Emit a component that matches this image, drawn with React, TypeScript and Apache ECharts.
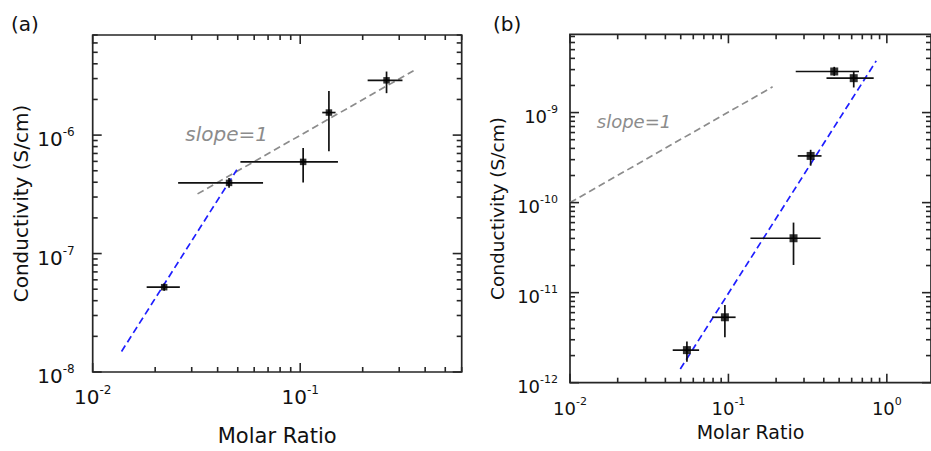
import React, { useEffect, useRef } from 'react';
import * as echarts from 'echarts';

// ---------- Panel (a) ----------
const ratioA = [0.0221, 0.0454, 0.1033, 0.1375, 0.2606];
const condA = [5.2e-8, 3.95e-7, 5.94e-7, 1.55e-6, 2.9e-6];
const ratioLoA = [0.0182, 0.0258, 0.0515, 0.1277, 0.2113];
const ratioHiA = [0.0263, 0.0662, 0.152, 0.148, 0.311];
const condLoA = [4.85e-8, 3.6e-7, 3.97e-7, 7.3e-7, 2.26e-6];
const condHiA = [5.6e-8, 4.35e-7, 7.8e-7, 2.36e-6, 3.44e-6];
const fitA = [[0.01377, 1.49e-8], [0.0495, 5.1e-7]];
const slopeLineA = [[0.032, 3.19e-7], [0.3516, 3.5e-6]];
const xRangeA = [0.01, 0.6];
const yRangeA = [1e-8, 7e-6];

// ---------- Panel (b) ----------
const ratioB = [0.0547, 0.095, 0.2576, 0.3304, 0.4655, 0.618];
const condB = [2.3e-12, 5.33e-12, 4.02e-11, 3.3e-10, 2.86e-9, 2.41e-9];
const ratioLoB = [0.0445, 0.079, 0.1377, 0.274, 0.266, 0.416];
const ratioHiB = [0.0653, 0.111, 0.382, 0.387, 0.667, 0.826];
const condLoB = [1.71e-12, 3.19e-12, 2.03e-11, 2.57e-10, 2.56e-9, 1.9e-9];
const condHiB = [2.86e-12, 7.3e-12, 6e-11, 3.86e-10, 3.22e-9, 2.9e-9];
const fitB = [[0.0497, 1.42e-12], [0.857, 3.75e-9]];
const slopeLineB = [[0.01, 1e-10], [0.19, 1.93e-9]];
const xRangeB = [0.01, 1.9];
const yRangeB = [1e-12, 7.4e-9];

const FONT = 'DejaVu Sans';
const AXIS_COLOR = '#262626';
const TEXT_COLOR = '#111';

function logTicks(min: number, max: number) {
  const out: { v: number; major: boolean }[] = [];
  const d0 = Math.floor(Math.log10(min));
  const d1 = Math.ceil(Math.log10(max));
  for (let d = d0; d <= d1; d++) {
    for (let k = 1; k <= 9; k++) {
      const v = k * Math.pow(10, d);
      if (v >= min * 0.9999 && v <= max * 1.0001) out.push({ v, major: k === 1 });
    }
  }
  return out;
}

type LabelCfg = { fs: number; ss: number; xDy: number; yDx: number; yDy: number; supUp: number };

function tickSeries(idx: number, xr: number[], yr: number[], lc: LabelCfg) {
  const data: number[][] = [];
  logTicks(xr[0], xr[1]).forEach((t) => data.push([t.v, yr[0], 0, t.major ? 1 : 0]));
  logTicks(yr[0], yr[1]).forEach((t) => data.push([xr[0], t.v, 1, t.major ? 1 : 0]));
  const w10 = 1.272 * lc.fs;
  const supW = (s: string) => {
    let w = 0;
    for (const ch of s) w += ch === '-' ? 0.361 : 0.636;
    return w * lc.ss;
  };
  return {
    type: 'custom',
    xAxisIndex: idx,
    yAxisIndex: idx,
    silent: true,
    z: 5,
    encode: { x: 0, y: 1 },
    data,
    renderItem: (params: any, api: any) => {
      const cs = params.coordSys;
      const kind = api.value(2);
      const major = api.value(3) === 1;
      const len = major ? 9 : 5;
      const style = { stroke: AXIS_COLOR, lineWidth: 1.6 };
      const children: any[] = [];
      if (kind === 0) {
        const v = api.value(0);
        const px = api.coord([v, yr[0]])[0];
        const yb = cs.y + cs.height;
        children.push({ type: 'line', shape: { x1: px, y1: yb, x2: px, y2: yb - len }, style });
        children.push({ type: 'line', shape: { x1: px, y1: cs.y, x2: px, y2: cs.y + len }, style });
        if (major) {
          const e = String(Math.round(Math.log10(v)));
          const total = w10 + supW(e);
          const x0 = px - total / 2;
          const cy = yb + lc.xDy;
          children.push({ type: 'text', x: x0, y: cy, style: { text: '10', fontSize: lc.fs, fontFamily: FONT, fill: TEXT_COLOR, align: 'left', verticalAlign: 'middle' } });
          children.push({ type: 'text', x: x0 + w10, y: cy - lc.supUp, style: { text: e, fontSize: lc.ss, fontFamily: FONT, fill: TEXT_COLOR, align: 'left', verticalAlign: 'middle' } });
        }
      } else {
        const v = api.value(1);
        const py = api.coord([xr[0], v])[1];
        const xr2 = cs.x + cs.width;
        children.push({ type: 'line', shape: { x1: cs.x, y1: py, x2: cs.x + len, y2: py }, style });
        children.push({ type: 'line', shape: { x1: xr2, y1: py, x2: xr2 - len, y2: py }, style });
        if (major) {
          const e = String(Math.round(Math.log10(v)));
          const xRight = cs.x - lc.yDx;
          const xs = xRight - supW(e);
          const cy = py + lc.yDy;
          children.push({ type: 'text', x: xs, y: cy, style: { text: '10', fontSize: lc.fs, fontFamily: FONT, fill: TEXT_COLOR, align: 'right', verticalAlign: 'middle' } });
          children.push({ type: 'text', x: xs, y: cy - lc.supUp, style: { text: e, fontSize: lc.ss, fontFamily: FONT, fill: TEXT_COLOR, align: 'left', verticalAlign: 'middle' } });
        }
      }
      return { type: 'group', children };
    },
  };
}

function errorSeries(idx: number, x: number[], y: number[], xl: number[], xh: number[], yl: number[], yh: number[]) {
  const data = x.map((v, i) => [v, y[i], xl[i], xh[i], yl[i], yh[i]]);
  return {
    type: 'custom',
    xAxisIndex: idx,
    yAxisIndex: idx,
    z: 3,
    encode: { x: 0, y: 1 },
    data,
    renderItem: (params: any, api: any) => {
      const c = api.coord([api.value(0), api.value(1)]);
      const a = api.coord([api.value(2), api.value(1)]);
      const b = api.coord([api.value(3), api.value(1)]);
      const d = api.coord([api.value(0), api.value(4)]);
      const e = api.coord([api.value(0), api.value(5)]);
      const style = { stroke: '#111', lineWidth: 1.7 };
      return {
        type: 'group',
        children: [
          { type: 'line', shape: { x1: a[0], y1: c[1], x2: b[0], y2: c[1] }, style },
          { type: 'line', shape: { x1: c[0], y1: d[1], x2: c[0], y2: e[1] }, style },
        ],
      };
    },
  };
}

function makeAxes(idx: number, xr: number[], yr: number[], nameSizeX: number, nameSizeY: number, xGap: number, yGap: number) {
  const common = {
    type: 'log',
    logBase: 10,
    gridIndex: idx,
    nameLocation: 'middle',
    axisLine: { show: false },
    axisTick: { show: false },
    splitLine: { show: false },
    minorTick: { show: false },
    axisLabel: { show: false },
  };
  const xAxis = {
    ...common,
    min: xr[0],
    max: xr[1],
    name: 'Molar Ratio',
    nameGap: xGap,
    nameTextStyle: { fontSize: nameSizeX, fontFamily: FONT, color: TEXT_COLOR },
  };
  const yAxis = {
    ...common,
    min: yr[0],
    max: yr[1],
    name: 'Conductivity (S/cm)',
    nameGap: yGap,
    nameTextStyle: { fontSize: nameSizeY, fontFamily: FONT, color: TEXT_COLOR },
  };
  return { xAxis, yAxis };
}

export default function App() {
  const ref = useRef<HTMLDivElement>(null);
  useEffect(() => {
    if (!ref.current) return;
    const chart = echarts.init(ref.current, undefined, { renderer: 'svg' });
    const A = makeAxes(0, xRangeA, yRangeA, 21, 20, 53, 62);
    const B = makeAxes(1, xRangeB, yRangeB, 19, 18.5, 40, 63);
    const labelA: LabelCfg = { fs: 20, ss: 12, xDy: 25, yDx: 18, yDy: 4, supUp: 7 };
    const labelB: LabelCfg = { fs: 18, ss: 11, xDy: 25.5, yDx: 12, yDy: 3.5, supUp: 7 };
    const lineStyleBase = { width: 1.7 };
    chart.setOption({
      animation: false,
      backgroundColor: '#ffffff',
      grid: [
        { left: 92.7, top: 35, width: 369, height: 348, show: true, borderColor: AXIS_COLOR, borderWidth: 1.7, containLabel: false },
        { left: 570, top: 34.3, width: 363, height: 348.4, show: true, borderColor: AXIS_COLOR, borderWidth: 1.7, containLabel: false },
      ],
      xAxis: [A.xAxis, B.xAxis],
      yAxis: [A.yAxis, B.yAxis],
      graphic: [
        { type: 'text', left: 11, top: 14, style: { text: '(a)', fontSize: 20, fontFamily: FONT, fill: TEXT_COLOR } },
        { type: 'text', left: 493, top: 14, style: { text: '(b)', fontSize: 20, fontFamily: FONT, fill: TEXT_COLOR } },
        { type: 'text', x: 226.7, y: 134, style: { text: 'slope=1', fontSize: 20, fontStyle: 'italic', fontFamily: FONT, fill: '#8c8c8c', align: 'center', verticalAlign: 'middle' } },
        { type: 'text', x: 634, y: 121, style: { text: 'slope=1', fontSize: 18, fontStyle: 'italic', fontFamily: FONT, fill: '#8c8c8c', align: 'center', verticalAlign: 'middle' } },
      ],
      series: [
        tickSeries(0, xRangeA, yRangeA, labelA),
        tickSeries(1, xRangeB, yRangeB, labelB),
        { type: 'line', xAxisIndex: 0, yAxisIndex: 0, data: slopeLineA, symbol: 'none', z: 2, lineStyle: { ...lineStyleBase, color: '#8c8c8c', type: [7, 4] } },
        { type: 'line', xAxisIndex: 0, yAxisIndex: 0, data: fitA, symbol: 'none', z: 2, lineStyle: { ...lineStyleBase, color: '#1f1fff', type: [7, 4] } },
        { type: 'line', xAxisIndex: 1, yAxisIndex: 1, data: slopeLineB, symbol: 'none', z: 2, lineStyle: { ...lineStyleBase, color: '#8c8c8c', type: [7, 4] } },
        { type: 'line', xAxisIndex: 1, yAxisIndex: 1, data: fitB, symbol: 'none', z: 2, lineStyle: { ...lineStyleBase, color: '#1f1fff', type: [7, 4] } },
        errorSeries(0, ratioA, condA, ratioLoA, ratioHiA, condLoA, condHiA),
        errorSeries(1, ratioB, condB, ratioLoB, ratioHiB, condLoB, condHiB),
        { type: 'scatter', xAxisIndex: 0, yAxisIndex: 0, z: 4, symbol: 'rect', symbolSize: 6.5, itemStyle: { color: '#000' }, data: ratioA.map((v, i) => [v, condA[i]]) },
        { type: 'scatter', xAxisIndex: 1, yAxisIndex: 1, z: 4, symbol: 'rect', symbolSize: 8, itemStyle: { color: '#000' }, data: ratioB.map((v, i) => [v, condB[i]]) },
      ],
    });
    return () => chart.dispose();
  }, []);
  return <div ref={ref} style={{ position: 'fixed', left: 0, top: 0, width: 931, height: 451 }} />;
}
